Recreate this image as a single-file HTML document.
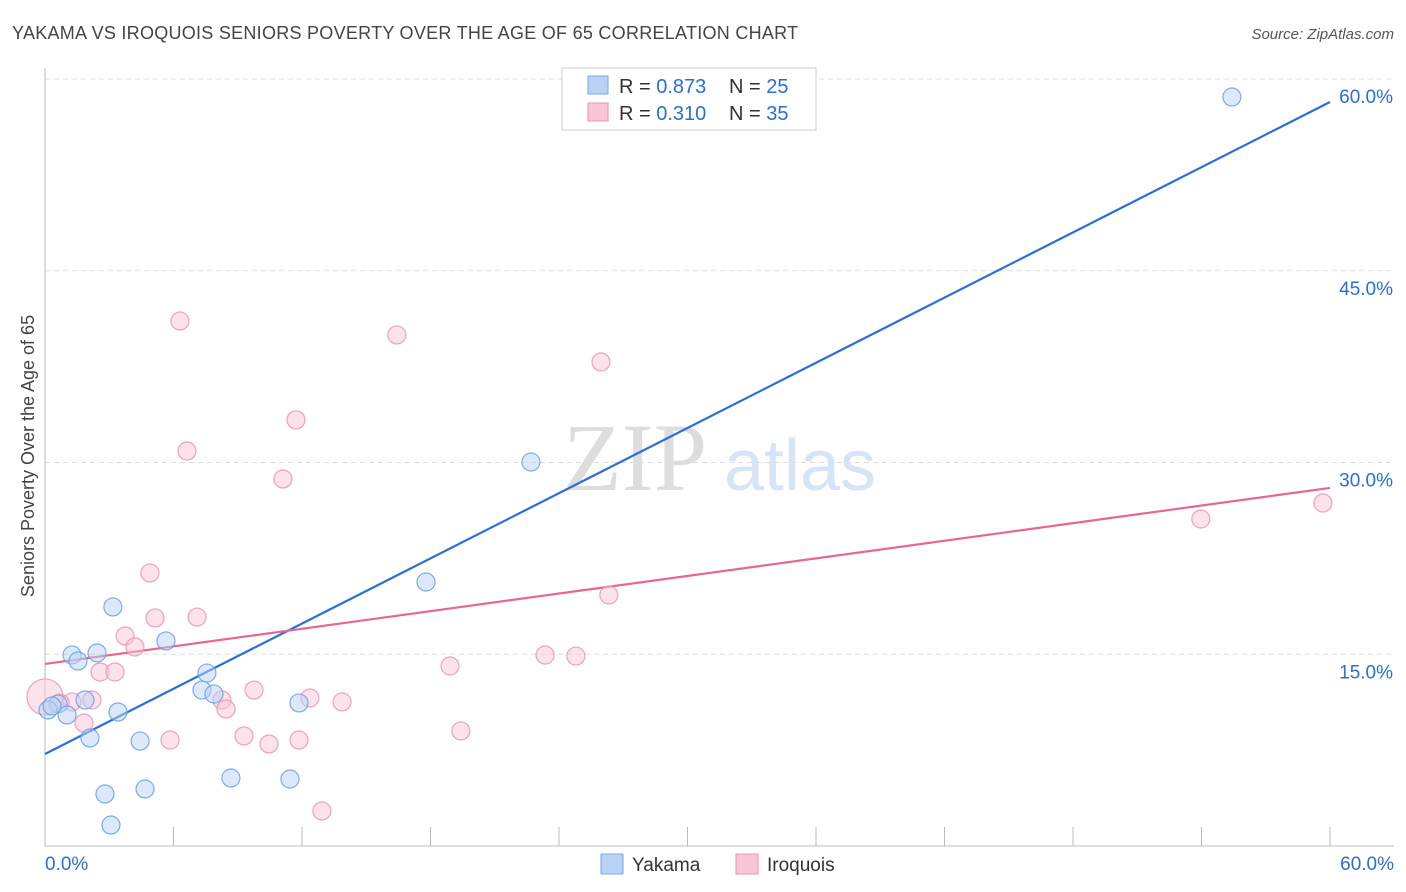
<!DOCTYPE html>
<html><head><meta charset="utf-8"><style>
body{margin:0;background:#fff;font-family:"Liberation Sans",sans-serif}
svg{display:block}
</style></head><body>
<svg id="c" width="1406" height="892">
<text x="12" y="39" font-size="18" fill="#444" letter-spacing="0.27">YAKAMA VS IROQUOIS SENIORS POVERTY OVER THE AGE OF 65 CORRELATION CHART</text>
<text x="1394" y="39" font-size="15" fill="#555" font-style="italic" text-anchor="end">Source: ZipAtlas.com</text>
<text x="0" y="0" transform="translate(34,456) rotate(-90)" font-size="18" fill="#444" text-anchor="middle">Seniors Poverty Over the Age of 65</text>
<g><text x="635" y="490" font-size="96" fill="#ddd" font-family="Liberation Serif,serif" text-anchor="middle">ZIP</text><text x="800" y="490" font-size="72" fill="#d6e4f5" text-anchor="middle">atlas</text></g>
<g id="grid"></g><g id="axes"></g><g id="lines"></g><g id="pts"></g>
<g>
<rect x="562" y="68" width="254" height="62" fill="#fff" stroke="#ccc"/>
<rect x="588" y="76" width="20" height="18" fill="#b8d3f5" stroke="#7aa7e6"/>
<text x="619" y="93" font-size="20" fill="#333">R = <tspan fill="#2a6fd6">0.873</tspan></text>
<text x="729" y="93" font-size="20" fill="#333">N = <tspan fill="#2a6fd6">25</tspan></text>
<rect x="588" y="103" width="20" height="18" fill="#f9c6d6" stroke="#ec93b1"/>
<text x="619" y="120" font-size="20" fill="#333">R = <tspan fill="#2a6fd6">0.310</tspan></text>
<text x="729" y="120" font-size="20" fill="#333">N = <tspan fill="#2a6fd6">35</tspan></text>
</g>
<g>
<rect x="601" y="854" width="22" height="20" fill="#b8d3f5" stroke="#7aa7e6"/>
<text x="632" y="871" font-size="19" fill="#333">Yakama</text>
<rect x="736" y="854" width="22" height="20" fill="#f9c6d6" stroke="#ec93b1"/>
<text x="767" y="871" font-size="19" fill="#333">Iroquois</text>
</g>
</svg>
<script>
const yTicks=[15,30,45,60];
const xTickLabels=["0.0%","60.0%"];
const blueX=[55.42,22.69,17.79,3.17,5.65,1.26,1.54,2.43,7.56,7.33,7.89,1.87,11.86,0.61,0.14,1.03,3.41,2.10,4.44,8.68,11.44,2.80,4.67,3.08,0.33];
const blueY=[58.59,30.04,20.65,18.70,16.04,14.94,14.47,15.10,13.53,12.20,11.89,11.42,11.19,11.11,10.64,10.25,10.48,8.45,8.21,5.32,5.24,4.07,4.46,1.64,10.95];
const pinkX=[6.30,16.43,25.96,11.72,6.63,11.11,4.90,5.14,7.10,3.74,4.20,2.57,3.27,18.91,23.35,24.79,26.33,53.97,59.67,9.76,8.26,8.45,12.37,13.87,2.19,1.26,0.70,1.82,9.29,5.84,11.86,10.46,19.42,12.93,0];
const pinkY=[41.07,39.98,37.86,33.33,30.90,28.71,21.36,17.84,17.91,16.43,15.57,13.61,13.61,14.08,14.94,14.86,19.64,25.58,26.83,12.20,11.42,10.72,11.58,11.27,11.42,11.27,11.19,9.62,8.61,8.29,8.29,7.98,9.00,2.74,11.66];
const blueLine=[7.20,58.20];
const pinkLine=[14.24,28.01];
const lineX=[0,60];
const NS='http://www.w3.org/2000/svg';
const X=v=>45+v/60*1285, Y=v=>846-v/60*767;
function mk(p,t,a){const e=document.createElementNS(NS,t);for(const k in a)e.setAttribute(k,a[k]);document.getElementById(p).appendChild(e);return e;}
yTicks.forEach(t=>{
 const g=mk('grid','line',{x1:45,x2:1394,y1:Y(t),y2:Y(t),stroke:'#ddd','stroke-dasharray':'5,4'});
 
 
 const l=mk('grid','text',{x:1393,y:Y(t)+24,'font-size':19,fill:'#2a6fd6','text-anchor':'end'});
 l.textContent=t.toFixed(1)+'%';
 
 
});
const ax=mk('axes','path',{d:'M45 68V846H1394',stroke:'#bbb',fill:'none'});


for(let i=0;i<=10;i++){const t=mk('axes','line',{x1:X(i*6),x2:X(i*6),y1:827,y2:846,stroke:'#bbb'});
 
 }
[[0,'start',45],[60,'end',1394]].forEach((d,i)=>{const l=mk('axes','text',{x:d[2],y:870,'font-size':19,fill:'#2a6fd6','text-anchor':d[1]});
 l.textContent=xTickLabels[i];
 
 });
function pts(xs,ys,f,s,n){xs.forEach((x,i)=>{const c=mk('pts','circle',{cx:X(x),cy:Y(ys[i]),r:(n=='iroquois'&&x===0)?18:9,fill:f,'fill-opacity':0.5,stroke:s,'stroke-opacity':0.85,'stroke-width':1.2});
 
 });}
pts(pinkX,pinkY,'#f9c6d6','#ec93b1','iroquois');
pts(blueX,blueY,'#b8d3f5','#6a9ee6','yakama');
const bl=mk('lines','line',{x1:X(lineX[0]),y1:Y(blueLine[0]),x2:X(lineX[1]),y2:Y(blueLine[1]),stroke:'#2a6fd6','stroke-width':2.2});


const pl=mk('lines','line',{x1:X(lineX[0]),y1:Y(pinkLine[0]),x2:X(lineX[1]),y2:Y(pinkLine[1]),stroke:'#e8668f','stroke-width':2.2});


</script>
</body></html>
